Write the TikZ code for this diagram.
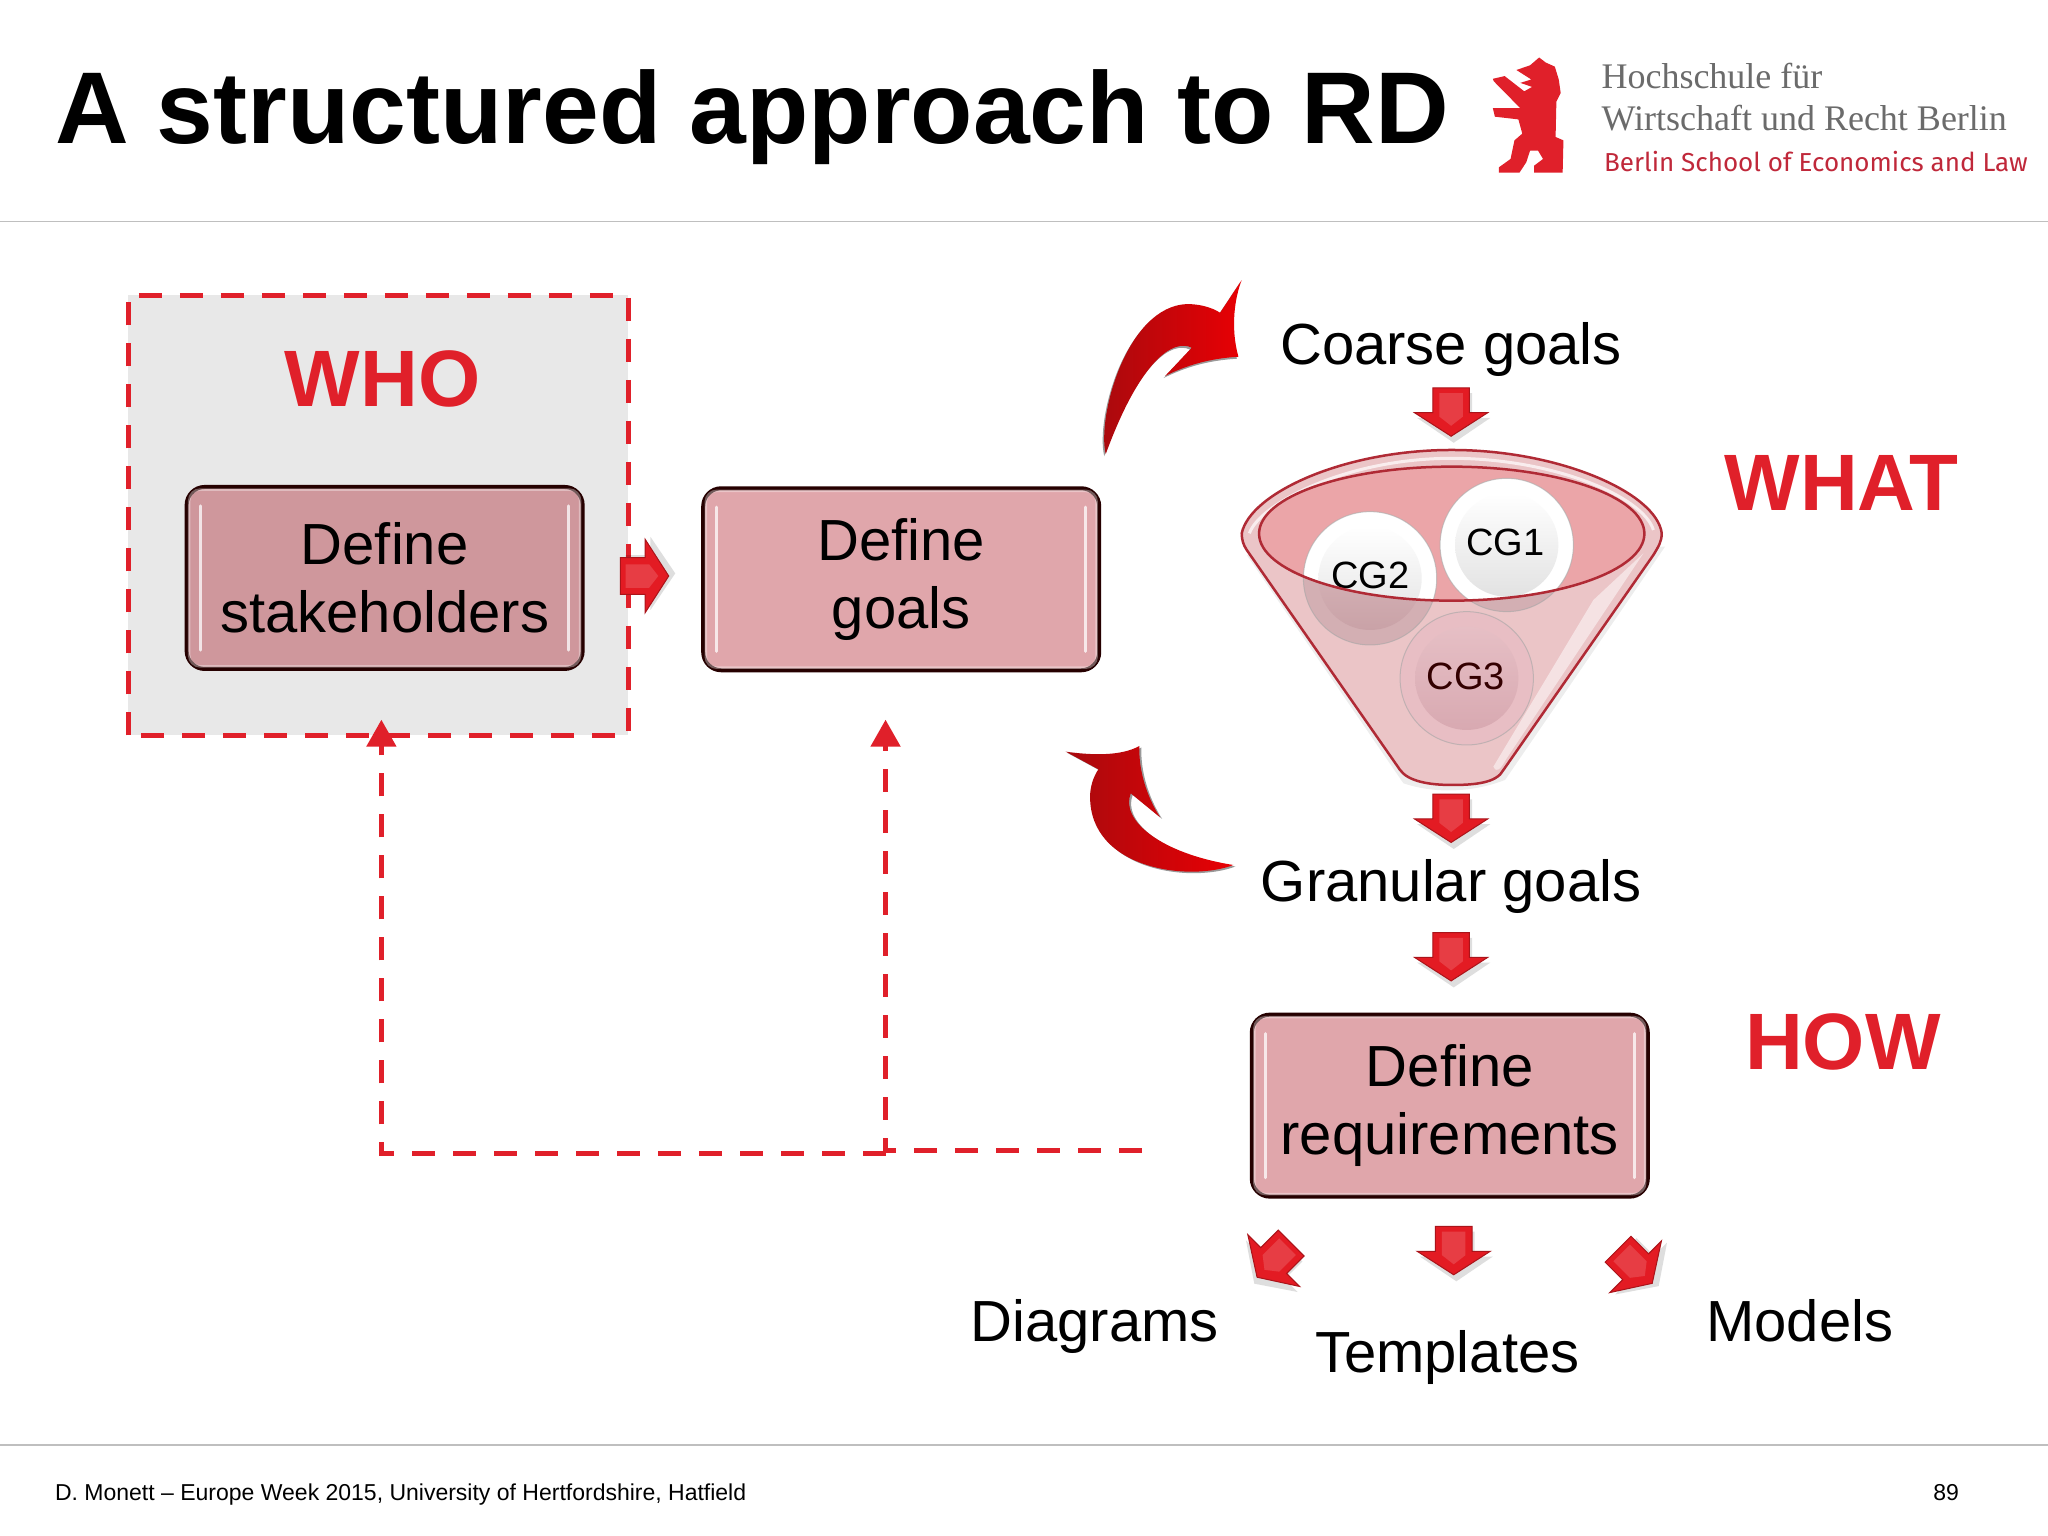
\documentclass[tikz,border=0pt]{standalone}
\usepackage{fontspec}
\setmainfont{Liberation Sans}
\newfontfamily\logoserif{Liberation Serif}
\newfontfamily\logosans{Fira Sans}
\usetikzlibrary{calc,arrows.meta}
\definecolor{hwrred}{HTML}{E0202A}
\definecolor{boxpink}{HTML}{E0A6AB}
\definecolor{boxmuted}{HTML}{CF979C}
\definecolor{arrowred}{HTML}{E31B23}
\definecolor{funnelline}{HTML}{B02A35}
\definecolor{funnelbody}{HTML}{EBC5C7}
\definecolor{funnelopen}{HTML}{EBA5A8}
\definecolor{logored}{HTML}{C0283A}
\definecolor{A}{HTML}{A80A0E}
\definecolor{B}{HTML}{E80004}
\definecolor{lowrim}{HTML}{D3AFB3}
\definecolor{lowtop}{HTML}{DDBCC0}
\definecolor{lowbot}{HTML}{C9A2A7}
\definecolor{cgrim}{HTML}{E8BEC4}
\definecolor{cgtop}{HTML}{E6BFC5}
\definecolor{cgbot}{HTML}{D8A9B1}
\definecolor{whitebot}{HTML}{E2E2E2}
\newcommand{\fs}[2]{\fontsize{#1}{#2}\selectfont}
\newcommand{\glossy}[1]{%
  \draw[white,opacity=.35,line width=2.5pt,rounded corners=11pt]
    ($(#1.north west)+(3.5,3.5)$) rectangle ($(#1.south east)+(-3.5,-3.5)$);
  \draw[white,opacity=.75,line width=3pt,line cap=round]
    ($(#1.north west)+(12,16)$) -- ($(#1.south west)+(12,-16)$);
  \draw[white,opacity=.75,line width=3pt,line cap=round]
    ($(#1.north east)+(-12,16)$) -- ($(#1.south east)+(-12,-16)$);
}
\newcommand{\ballshape}[5]{% x y rim top bottom
  \fill[#3] (#1,#2) circle[radius=200];
  \draw[black!35,opacity=.6,line width=1pt] (#1,#2) circle[radius=200];
  \shade[top color=#4,bottom color=#5] (#1,#2) circle[radius=155];
}
\tikzset{
  x=1.30612pt,y=-1.30612pt,
  stepbox/.style={draw=black!85!red,line width=4pt,rounded corners=18pt,minimum width=396pt,minimum height=182pt,inner sep=0pt,align=center,font=\fs{58}{68}},
  biglabel/.style={font=\fs{58}{68},text=black,anchor=base,inner sep=0pt},
  tag/.style={font=\fs{80}{90}\bfseries,text=hwrred,inner sep=0pt,anchor=base},
  cglabel/.style={font=\fs{38}{44},inner sep=0pt},
  feedback/.style={draw=hwrred,line width=5pt,dash pattern=on 23pt off 18pt},
  feedtip/.style={-{Triangle[length=27pt,width=29pt,fill=hwrred]}},
  blockarr/.pic={
    \fill[black,opacity=.13] (-12,4) -- (16,4) -- (16,23) -- (30,23) -- (2,42) -- (-26,23) -- (-12,23) -- cycle;
    \fill[arrowred,draw=arrowred!75!black,line width=1pt] (-14,0) -- (14,0) -- (14,19) -- (28,19) -- (0,37) -- (-28,19) -- (-14,19) -- cycle;
    \fill[arrowred!85!white] (-9,4) -- (9,4) -- (9,22) -- (0,29) -- (-9,22) -- cycle;
  },
  curvearrow/.style={left color=A,right color=B}
}
\begin{document}
\begin{tikzpicture}
\useasboundingbox (0,0) rectangle (1568,1176);
\fill[white] (0,0) rectangle (1568,1176);
% rules
\draw[black!25,line width=1.6pt] (0,169.5) -- (1568,169.5);
\draw[black!25,line width=1.6pt] (0,1106.5) -- (1568,1106.5);
% title
\node[anchor=base west,inner sep=0pt,font=\fs{102}{110}\bfseries] (title) at (42,110) {A structured approach to RD};
% logo
\begin{scope}[shift={(1110,22)},xscale=.3,yscale=.259]
\fill[hwrred] (228,85) -- (245,100) -- (268,112) -- (278,150) -- (283,190) -- (272,215) -- (270,320) -- (290,330) -- (288,425) -- (215,425) -- (215,405) -- (238,385) -- (225,360) -- (205,360) -- (195,395) -- (178,425) -- (125,425) -- (125,410) -- (155,385) -- (165,330) -- (185,310) -- (175,268) -- (115,260) -- (110,235) -- (180,235) -- (112,155) -- (110,148) -- (140,140) -- (190,185) -- (210,172) -- (180,160) -- (208,150) -- (170,122) -- (205,108) -- cycle;
\end{scope}
\node[anchor=base west,inner sep=0pt,font=\logoserif\fs{36}{42},text=black!58] (logoa) at (1226,68) {Hochschule für};
\node[anchor=base west,inner sep=0pt,font=\logoserif\fs{36}{42},text=black!58] (logob) at (1226,100) {Wirtschaft und Recht Berlin};
\node[anchor=base west,inner sep=0pt,font=\logosans\fs{26}{30},text=logored] (logoc) at (1228,131) {Berlin School of Economics and Law};
% WHO region
\fill[black!9] (98,226) rectangle (481,563);
\draw[feedback] (98,563) -- (98,226) -- (481,226) -- (481,563) -- cycle;
\node[tag] (who) at (293,311) {WHO};
\node[tag] (what) at (1410,391) {WHAT};
\node[tag] (how) at (1411,819) {HOW};
% boxes
\node[stepbox,fill=boxmuted] (stake) at (294.5,442.5) {Define\\stakeholders};
\node[stepbox,fill=boxpink] (goals) at (690,443.5) {Define\\goals};
\node[stepbox,fill=boxpink] (req) at (1110,846.5) {Define\\requirements};
\glossy{stake}
\glossy{goals}
\glossy{req}
% feedback connectors
\coordinate (fbstart) at (874,881);
\coordinate (fbmid) at (678,881);
\coordinate (fbgoals) at (678,551);
\coordinate (fbjoin) at (678,883);
\coordinate (fbcorner) at (292,883);
\coordinate (fbwho) at (292,551);
\draw[feedback,feedtip] (fbstart) -- (fbmid) -- (fbgoals);
\draw[feedback,feedtip] (fbjoin) -- (fbcorner) -- (fbwho);
% labels
\node[biglabel] (coarse) at (1111,279) {Coarse goals};
\node[biglabel] (granular) at (1111,690) {Granular goals};
\node[biglabel] (diagrams) at (838,1027) {Diagrams};
\node[biglabel] (templates) at (1108,1051) {Templates};
\node[biglabel] (models) at (1378,1027) {Models};
% block arrows
\pic at (1111,297) {blockarr};
\pic at (1111,608) {blockarr};
\pic at (1111,714) {blockarr};
\pic at (1113,939) {blockarr};
\pic[rotate=-45] at (988.6,951.7) {blockarr};
\pic[rotate=45] at (1238.8,956.4) {blockarr};
\pic[rotate=90] at (475,441) {blockarr};
% curved arrows
\begin{scope}[shift={(796.3,199.1)},scale=.2552]
\shade[curvearrow,preaction={fill=black!40,transform canvas={shift={(-1.5pt,-2pt)}}}]
 (197,582) .. controls (170,470) and (260,140) .. (440,132)
 .. controls (480,132) and (515,142) .. (540,158) -- (605,60)
 .. controls (585,110) and (570,200) .. (595,290)
 .. controls (510,295) and (440,315) .. (375,348) -- (455,263)
 .. controls (400,235) and (300,300) .. (197,582) -- cycle;
\end{scope}
\begin{scope}[shift={(796.3,558.9)},scale=.2552]
\shade[curvearrow,preaction={fill=black!40,transform canvas={shift={(2pt,-1.5pt)}}}]
 (77,65) .. controls (150,75) and (240,80) .. (298,48)
 .. controls (295,120) and (320,200) .. (360,262) -- (272,190)
 .. controls (240,270) and (360,370) .. (580,405)
 .. controls (450,455) and (150,420) .. (150,200)
 .. controls (150,170) and (160,140) .. (175,118) -- cycle;
\end{scope}
% funnel
\begin{scope}[shift={(918.8,329.2)},scale=.2552]
\fill[black,opacity=.07] (140,375) -- (610,1060) .. controls (700,1090) and (810,1090) .. (915,1050) -- (1395,350) -- cycle;
\path[fill=funnelbody]
 (125,310) .. controls (150,190) and (430,60) .. (755,60)
 .. controls (1080,60) and (1370,190) .. (1385,310)
 .. controls (1385,335) and (1375,350) .. (1360,375)
 -- (910,1020) .. controls (890,1060) and (820,1065) .. (755,1065)
 .. controls (690,1065) and (625,1055) .. (600,1020)
 -- (140,360) .. controls (130,345) and (125,330) .. (125,310) -- cycle;
\fill[white,opacity=.5] (1330,370) -- (920,985) .. controls (900,1020) and (890,1030) .. (880,1010) -- (1180,510) -- cycle;
% balls, lower (seen through the funnel)
\ballshape{510}{445}{lowrim}{lowtop}{lowbot}
\ballshape{920}{345}{lowrim}{lowtop}{lowbot}
\ballshape{800}{745}{cgrim}{cgtop}{cgbot}
% opening
\fill[funnelopen] (755,311) ellipse[x radius=578,y radius=201];
\begin{scope}
\clip (755,311) ellipse[x radius=578,y radius=201];
\ballshape{510}{445}{white}{white}{whitebot}
\ballshape{920}{345}{white}{white}{whitebot}
\end{scope}
\node[cglabel] (cgone) at (915,338) {CG1};
\node[cglabel] (cgtwo) at (510,435) {CG2};
\node[cglabel,text=black!80!red] (cgthree) at (797,738) {CG3};
\draw[white,opacity=.7,line width=3pt] (148,310) .. controls (180,220) and (440,85) .. (755,85) .. controls (1060,85) and (1330,200) .. (1360,300);
\draw[funnelline,line width=2.5pt] (755,311) ellipse[x radius=578,y radius=201];
\draw[funnelline,line width=2.5pt]
 (125,310) .. controls (150,190) and (430,60) .. (755,60)
 .. controls (1080,60) and (1370,190) .. (1385,310)
 .. controls (1385,335) and (1375,350) .. (1360,375)
 -- (910,1020) .. controls (890,1060) and (820,1065) .. (755,1065)
 .. controls (690,1065) and (625,1055) .. (600,1020)
 -- (140,360) .. controls (130,345) and (125,330) .. (125,310) -- cycle;
\end{scope}
% footer
\node[anchor=base west,inner sep=0pt,font=\fs{23}{28}] (foot) at (42,1149) {D. Monett – Europe Week 2015, University of Hertfordshire, Hatfield};
\node[anchor=base east,inner sep=0pt,font=\fs{23}{28}] (page) at (1500,1149) {89};
\end{tikzpicture}
\end{document}
